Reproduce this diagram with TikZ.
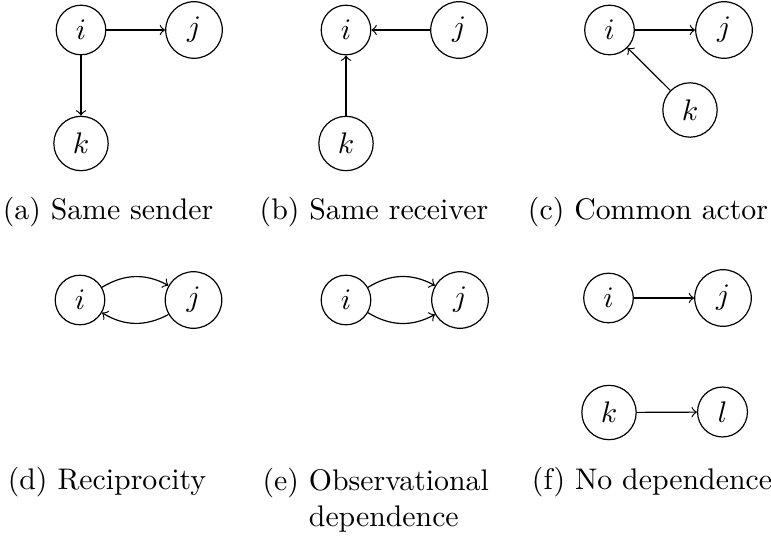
\documentclass[tikz,border=0pt]{standalone}
\usepackage{amsfonts,amssymb}
\usepackage{tikz}
\tikzset{
actor/.style={circle, draw}, % one circle per actor
tie/.style={->}, % directed tie, plain "to" tip
sublabel/.style={anchor=base, inner sep=0pt}, % text under each panel
}

\begin{document}
\begin{tikzpicture}[x=0.3356pt,y=0.3356pt,yscale=-1,xscale=1]
\useasboundingbox (0,0) rectangle (771,536);
%Same sender
\node[actor] (ai) at (81,30) {$i$};
\node[actor] (aj) at (194,30) {$j$};
\node[actor] (ak) at (81,143.5) {$k$};
\draw[tie] (ai) -- (aj);
\draw[tie] (ai) -- (ak);
%Same receiver
\node[actor] (bi) at (346,30) {$i$};
\node[actor] (bj) at (459,30) {$j$};
\node[actor] (bk) at (346,143.5) {$k$};
\draw[tie] (bj) -- (bi);
\draw[tie] (bk) -- (bi);
%Common actor
\node[actor] (ci) at (609.5,30) {$i$};
\node[actor] (cj) at (724,30) {$j$};
\node[actor] (ck) at (690,110) {$k$};
\draw[tie] (ci) -- (cj);
\draw[tie] (ck) -- (ci);
%Reciprocity (y is flipped, so bend right curves upwards)
\node[actor] (di) at (80,300) {$i$};
\node[actor] (dj) at (193.5,300) {$j$};
\draw[tie] (di) to[bend right] (dj);
\draw[tie] (dj) to[bend right] (di);
%Observational dependence
\node[actor] (ei) at (346,300) {$i$};
\node[actor] (ej) at (460,300) {$j$};
\draw[tie] (ei) to[bend left] (ej);
\draw[tie] (ei) to[bend right] (ej);
%No dependence
\node[actor] (fi) at (608.5,298) {$i$};
\node[actor] (fj) at (723,298) {$j$};
\node[actor] (fk) at (609,412.5) {$k$};
\node[actor] (fl) at (722.5,412) {$l$};
\draw[tie] (fi) -- (fj);
\draw[tie] (fk) -- (fl);
%Labels
\node[sublabel] (capa) at (108,219) {(a) Same sender};
\node[sublabel] (capb) at (374,219) {(b) Same receiver};
\node[sublabel] (capc) at (648,219) {(c) Common actor};
\node[sublabel] (capd) at (107,489.5) {(d) Reciprocity};
\node[sublabel, anchor=base west, align=left] (cape) at (262,526.5) {(e) Observational\\\hphantom{(e)\ }dependence};
\node[sublabel] (capf) at (652,489.5) {(f) No dependence};
\end{tikzpicture}
\end{document}
